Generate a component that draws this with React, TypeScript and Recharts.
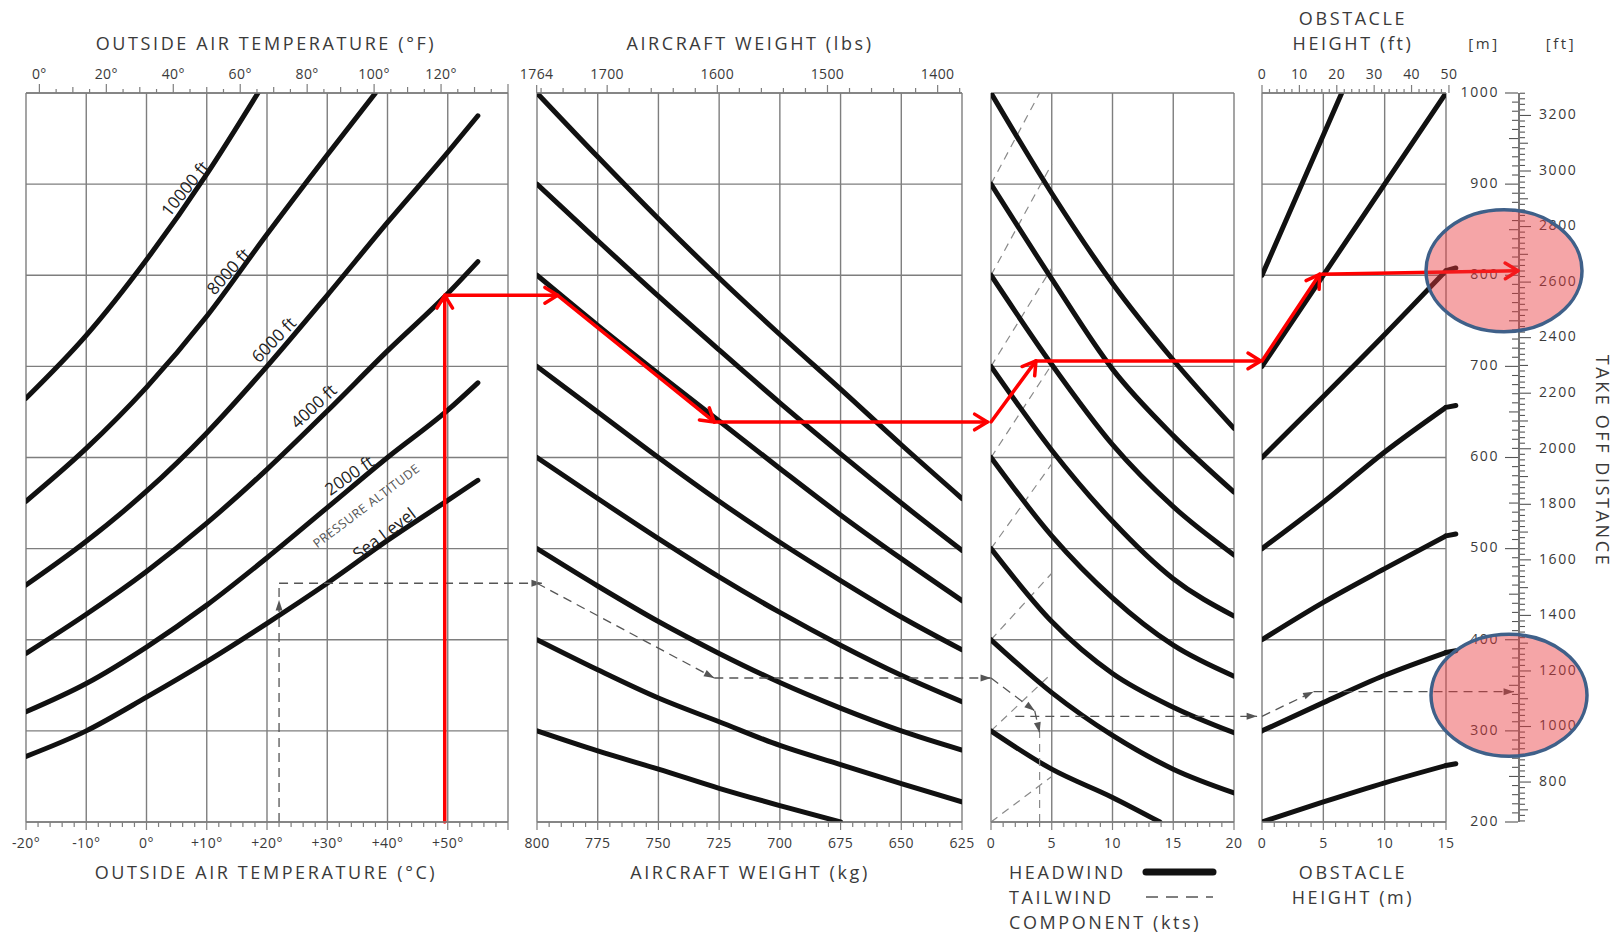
import type { ReactNode } from "react"
import { Line, LineChart, ReferenceDot, ReferenceLine, XAxis, YAxis } from "recharts"

const W = 1619
const H = 934
const PLOT_TOP = 93
const PLOT_BOTTOM = 822
const AXIS_H = 30
const SCALE_X = 1519
const FONT = "'Open Sans', 'DejaVu Sans', sans-serif"
const INK = "#3a3a3a"
const GRID = "#7e7e7e"
const CURVE = "#111"
const RED = "#ff0000"
const DASH = "#555"
const M_TO_FT = 3.28084
const KG_TO_LB = 2.20462

// take-off distance grid (m)
const distanceGrid = [200, 300, 400, 500, 600, 700, 800, 900, 1000]

// outside air temperature panel (°C -> m)
const tempStops = [-20, -10, 0, 10, 20, 30, 40, 50, 55]
const altSeaLevel = [272, 300, 337, 376, 418, 462, 509, 553, 575]
const alt2000 = [321, 352, 392, 438, 490, 545, 600, 652, 682]
const alt4000 = [385, 428, 475, 528, 587, 651, 717, 780, 815]
const alt6000 = [460, 508, 563, 627, 700, 778, 858, 935, 975]
const alt8000Stops = [-20, -10, 0, 10, 20, 30, 38]
const alt8000 = [552, 610, 677, 755, 845, 932, 1000]
const alt10000Stops = [-20, -10, 0, 10, 18.5]
const alt10000 = [665, 734, 817, 911, 1000]

// aircraft weight panel (kg -> m)
const weightStops = [800, 775, 750, 725, 700, 675, 650, 625]
const wt1000 = [1000, 930, 862, 797, 735, 675, 614, 555]
const wt900 = [900, 838, 777, 718, 660, 604, 550, 498]
const wt800 = [800, 745, 692, 640, 588, 537, 489, 443]
const wt700 = [700, 650, 600, 552, 507, 465, 425, 389]
const wt600 = [600, 555, 511, 469, 430, 394, 361, 332]
const wt500 = [500, 459, 420, 385, 353, 325, 300, 279]
const wt400 = [400, 367, 336, 310, 284, 263, 242, 222]
const wt300Stops = [800, 775, 750, 725, 700, 675]
const wt300 = [300, 278, 258, 237, 218, 200]

// wind component panel (kts -> m)
const windStops = [0, 5, 10, 15, 20]
const hw1000 = [1000, 890, 791, 707, 632]
const hw900 = [900, 796, 697, 624, 562]
const hw800 = [800, 702, 614, 546, 493]
const hw700 = [700, 608, 530, 467, 426]
const hw600 = [600, 514, 446, 394, 360]
const hw500 = [500, 420, 363, 326, 298]
const hw400 = [400, 342, 295, 258, 232]
const hw300Stops = [0, 5, 10, 13.9]
const hw300 = [300, 258, 227, 200]
const twStart = [200, 300, 400, 500, 600, 700, 800, 900]
const twEndKts = [5, 5, 5, 5, 5, 5, 5, 4]
const twEnd = [250, 363, 473, 593, 702, 808, 922, 1000]

// obstacle height panel (m -> m)
const obstStops = [0, 5, 10, 15]
const ob800Stops = [0, 6.5]
const ob800 = [800, 1000]
const ob700Stops = [0, 15]
const ob700 = [700, 1000]
const ob600 = [600, 667, 735, 805]
const ob500 = [500, 551, 606, 655]
const ob400 = [400, 441, 478, 514]
const ob300 = [300, 331, 361, 386]
const ob200 = [200, 222, 243, 262]
const hookEnd = 15.8
const hookLevels = [808, 657, 516, 388, 264]

// worked example in red
const redOat = 49.5
const redWeight = [791.5, 727]
const redWind = 3.7
const redObst = 4.7
const redDist = [778, 639, 706, 801, 805]

// printed example (dashed)
const dashOat = 22
const dashWeight = 727
const dashWind = 4
const dashObst = 4.2
const dashDist = [462, 358, 316, 343]

type Panel = { left: number; right: number; min: number; max: number; reversed?: boolean }
const P_TEMP: Panel = { left: 26, right: 508, min: -20, max: 60 }
const P_WEIGHT: Panel = { left: 537, right: 962, min: 625, max: 800, reversed: true }
const P_WIND: Panel = { left: 991, right: 1234, min: 0, max: 20 }
const P_OBST: Panel = { left: 1262, right: 1446, min: 0, max: 15 }

const range = (a: number, b: number, s: number) =>
  Array.from({ length: Math.round((b - a) / s) + 1 }, (_, i) => +(a + i * s).toFixed(4))
const mult = (v: number, m: number) => Math.abs(v / m - Math.round(v / m)) < 1e-6

// value of a panel at a given pixel column, used to carry arrows across the gaps
const pxOf = (p: Panel, v: number) => {
  const t = (v - p.min) / (p.max - p.min)
  return p.reversed ? p.right - t * (p.right - p.left) : p.left + t * (p.right - p.left)
}
const valAt = (p: Panel, px: number) => {
  let t = (px - p.left) / (p.right - p.left)
  if (p.reversed) t = 1 - t
  return p.min + t * (p.max - p.min)
}
const across = (from: Panel, v: number, to: Panel) => valAt(to, pxOf(from, v))

type AxisCfg = {
  domain: [number, number]
  ticks: number[]
  len: (v: number) => number
  label: (v: number) => string | null
}

function xTick(side: "top" | "bottom", cfg: AxisCfg) {
  return (props: any) => {
    const { x, y, payload } = props
    const v = payload.value
    const dir = side === "top" ? -1 : 1
    const text = cfg.label(v)
    return (
      <g>
        <line x1={x} x2={x} y1={y} y2={y + dir * cfg.len(v)} stroke={GRID} strokeWidth={1.2} />
        {text !== null && (
          <text x={x} y={side === "top" ? y - 14 : y + 26} textAnchor="middle" fontSize={14} fill={INK} fontFamily={FONT} letterSpacing={0.4}>
            {text}
          </text>
        )}
      </g>
    )
  }
}

function yTick(side: "left" | "right", len: (v: number) => number, label: (v: number) => string | null) {
  return (props: any) => {
    const { x, y, payload } = props
    const v = payload.value
    const dir = side === "left" ? -1 : 1
    const text = label(v)
    return (
      <g>
        <line x1={x} x2={x + dir * len(v)} y1={y} y2={y} stroke="#555" strokeWidth={1.1} />
        {text !== null && (
          <text x={x + dir * 19} y={y} textAnchor={side === "left" ? "end" : "start"} dominantBaseline="middle" fontSize={14} fill={INK} fontFamily={FONT} letterSpacing={1.6}>
            {text}
          </text>
        )}
      </g>
    )
  }
}

function arrow(color: string, width: number, opts: { dash?: string; head?: "open" | "solid"; size?: number; at?: number } = {}) {
  const { dash, head, size = 14, at = 1 } = opts
  return (p: any) => {
    const { x1, y1, x2, y2 } = p
    const a = Math.atan2(y2 - y1, x2 - x1)
    const tx = x1 + (x2 - x1) * at
    const ty = y1 + (y2 - y1) * at
    const spread = head === "open" ? 0.55 : 0.32
    const ax = tx - size * Math.cos(a - spread)
    const ay = ty - size * Math.sin(a - spread)
    const bx = tx - size * Math.cos(a + spread)
    const by = ty - size * Math.sin(a + spread)
    return (
      <g>
        <line x1={x1} y1={y1} x2={x2} y2={y2} stroke={color} strokeWidth={width} strokeDasharray={dash} strokeLinecap={dash ? "butt" : "round"} />
        {head === "open" && (
          <polyline points={`${ax},${ay} ${tx},${ty} ${bx},${by}`} fill="none" stroke={color} strokeWidth={width} strokeLinecap="round" strokeLinejoin="round" />
        )}
        {head === "solid" && <polygon points={`${ax},${ay} ${tx},${ty} ${bx},${by}`} fill={color} />}
      </g>
    )
  }
}

const redArrow = arrow(RED, 3.5, { head: "open", size: 15 })
const dashArrow = (at = 1) => arrow(DASH, 1.3, { dash: "9 6", head: "solid", size: 11, at })
const faintLine = arrow("#8a8a8a", 1.2, { dash: "8 6" })
const hookShape = arrow(CURVE, 5)

const rotText = (text: string, angle: number, size: number, color = "#222", spacing = 0) => (p: any) => (
  <text
    x={p.cx}
    y={p.cy}
    transform={`rotate(${angle} ${p.cx} ${p.cy})`}
    textAnchor="middle"
    dominantBaseline="middle"
    fontSize={size}
    fill={color}
    fontFamily={FONT}
    letterSpacing={spacing}
  >
    {text}
  </text>
)

const ellipseShape = (p: any) => (
  <ellipse cx={p.cx} cy={p.cy} rx={78} ry={61} fill="#e8383b" fillOpacity={0.45} stroke="#3f6089" strokeWidth={3.5} />
)

const curve = (key: string, xs: number[], ds: number[]) => (
  <Line
    key={key}
    data={xs.map((v, i) => ({ v, d: ds[i] }))}
    dataKey="d"
    xAxisId="b"
    yAxisId="d"
    type="monotone"
    stroke={CURVE}
    strokeWidth={5}
    strokeLinecap="round"
    dot={false}
    activeDot={false}
    isAnimationActive={false}
  />
)

const seg = (key: string, a: [number, number], b: [number, number], shape: (p: any) => ReactNode) => (
  <ReferenceLine
    key={key}
    xAxisId="b"
    yAxisId="d"
    ifOverflow="visible"
    segment={[{ x: a[0], y: a[1] }, { x: b[0], y: b[1] }]}
    shape={shape as any}
  />
)

const tag = (key: string, x: number, y: number, shape: (p: any) => ReactNode) => (
  <ReferenceDot key={key} xAxisId="b" yAxisId="d" x={x} y={y} r={1} ifOverflow="visible" shape={shape as any} />
)

const grid = (xs: number[]) => [
  ...xs.map((v) => <ReferenceLine key={`gx${v}`} x={v} xAxisId="b" yAxisId="d" stroke={GRID} strokeWidth={1.4} />),
  ...distanceGrid.map((d) => <ReferenceLine key={`gy${d}`} y={d} xAxisId="b" yAxisId="d" stroke={GRID} strokeWidth={1.4} />),
]

function PanelChart({ p, top, bottom, children }: { p: Panel; top?: AxisCfg; bottom?: AxisCfg; children: ReactNode }) {
  return (
    <div style={{ position: "absolute", left: 0, top: 0 }}>
      <LineChart
        width={W}
        height={H}
        margin={{
          top: top ? PLOT_TOP - AXIS_H : PLOT_TOP,
          bottom: bottom ? H - PLOT_BOTTOM - AXIS_H : H - PLOT_BOTTOM,
          left: p.left,
          right: W - p.right,
        }}
      >
        <XAxis
          xAxisId="b"
          dataKey="v"
          type="number"
          domain={[p.min, p.max]}
          reversed={p.reversed}
          allowDataOverflow
          hide={!bottom}
          ticks={bottom?.ticks}
          interval={0}
          tickSize={0}
          tickMargin={0}
          tickLine={false}
          axisLine={{ stroke: GRID, strokeWidth: 1.4 }}
          tick={bottom ? xTick("bottom", bottom) : false}
          height={AXIS_H}
        />
        {top && (
          <XAxis
            xAxisId="t"
            dataKey="v"
            orientation="top"
            type="number"
            domain={top.domain}
            reversed={p.reversed}
            allowDataOverflow
            ticks={top.ticks}
            interval={0}
            tickSize={0}
            tickMargin={0}
            tickLine={false}
            axisLine={{ stroke: GRID, strokeWidth: 1.4 }}
            tick={xTick("top", top)}
            height={AXIS_H}
          />
        )}
        <YAxis yAxisId="d" hide type="number" domain={[200, 1000]} allowDataOverflow />
        {top && (
          <Line
            xAxisId="t"
            yAxisId="d"
            data={[{ v: top.domain[0], d: 1000 }, { v: top.domain[1], d: 1000 }]}
            dataKey="d"
            stroke="none"
            dot={false}
            activeDot={false}
            isAnimationActive={false}
          />
        )}
        {children}
      </LineChart>
    </div>
  )
}

const fmtC = (v: number) => (v > 0 ? `+${v}°` : `${v}°`)

const tempBottom: AxisCfg = {
  domain: [-20, 60],
  ticks: range(-20, 60, 2),
  len: (v) => (mult(v, 10) ? 8 : 5),
  label: (v) => (mult(v, 10) && v < 60 ? fmtC(v) : null),
}
const tempTop: AxisCfg = {
  domain: [-4, 140],
  ticks: range(0, 140, 5),
  len: (v) => (mult(v, 20) ? 9 : mult(v, 10) ? 6 : 4),
  label: (v) => (mult(v, 20) && v <= 120 ? `${v}°` : null),
}
const weightBottom: AxisCfg = {
  domain: [625, 800],
  ticks: range(625, 800, 5),
  len: (v) => (mult(v, 25) ? 8 : 5),
  label: (v) => (mult(v, 25) ? `${v}` : null),
}
const weightTop: AxisCfg = {
  domain: [625 * KG_TO_LB, 800 * KG_TO_LB],
  ticks: [...range(1380, 1760, 20), 1764],
  len: (v) => (mult(v, 100) || v === 1764 ? 8 : 5),
  label: (v) => (v === 1764 || (mult(v, 100) && v >= 1400) ? `${v}` : null),
}
const windBottom: AxisCfg = {
  domain: [0, 20],
  ticks: range(0, 20, 1),
  len: (v) => (mult(v, 5) ? 8 : 5),
  label: (v) => (mult(v, 5) ? `${v}` : null),
}
const obstBottom: AxisCfg = {
  domain: [0, 15],
  ticks: range(0, 15, 1),
  len: (v) => (mult(v, 5) ? 8 : 5),
  label: (v) => (mult(v, 5) ? `${v}` : null),
}
const obstTop: AxisCfg = {
  domain: [0, 15 * M_TO_FT],
  ticks: range(0, 50, 2),
  len: (v) => (mult(v, 10) ? 8 : 4),
  label: (v) => (mult(v, 10) ? `${v}` : null),
}

const meterTicks = range(200, 1000, 10)
const feetTicks = range(660, 3280, 20)

function TempPanel() {
  return (
    <PanelChart p={P_TEMP} top={tempTop} bottom={tempBottom}>
      {grid(range(-20, 60, 10))}
      {curve("sl", tempStops, altSeaLevel)}
      {curve("a2", tempStops, alt2000)}
      {curve("a4", tempStops, alt4000)}
      {curve("a6", tempStops, alt6000)}
      {curve("a8", alt8000Stops, alt8000)}
      {curve("a10", alt10000Stops, alt10000)}
      {tag("l10", 6.6, 894, rotText("10000 ft", -51, 17))}
      {tag("l8", 13.8, 803, rotText("8000 ft", -48, 17))}
      {tag("l6", 21.3, 728, rotText("6000 ft", -46, 17))}
      {tag("l4", 27.9, 655, rotText("4000 ft", -43, 17))}
      {tag("l2", 33.8, 579, rotText("2000 ft", -35, 17))}
      {tag("lpa", 36.6, 546, rotText("PRESSURE ALTITUDE", -37, 12.5, "#555", 0.6))}
      {tag("lsl", 39.6, 515, rotText("Sea Level", -37, 17))}
      {seg("e1", [dashOat, 200], [dashOat, dashDist[0]], dashArrow(0.93))}
      {seg("e1b", [dashOat, dashDist[0]], [across(P_WEIGHT, 798, P_TEMP), dashDist[0]], dashArrow())}
      {seg("r1", [redOat, 200], [redOat, redDist[0]], redArrow)}
    </PanelChart>
  )
}

function WeightPanel() {
  return (
    <PanelChart p={P_WEIGHT} top={weightTop} bottom={weightBottom}>
      {grid(range(625, 800, 25))}
      {curve("w1000", weightStops, wt1000)}
      {curve("w900", weightStops, wt900)}
      {curve("w800", weightStops, wt800)}
      {curve("w700", weightStops, wt700)}
      {curve("w600", weightStops, wt600)}
      {curve("w500", weightStops, wt500)}
      {curve("w400", weightStops, wt400)}
      {curve("w300", wt300Stops, wt300)}
      {seg("e2", [800, dashDist[0]], [dashWeight, dashDist[1]], dashArrow())}
      {seg("e3", [dashWeight, dashDist[1]], [across(P_WIND, 0, P_WEIGHT), dashDist[1]], dashArrow())}
      {seg("r2", [across(P_TEMP, redOat, P_WEIGHT), redDist[0]], [redWeight[0], redDist[0]], redArrow)}
      {seg("r3", [redWeight[0], redDist[0]], [redWeight[1], redDist[1]], redArrow)}
      {seg("r4", [redWeight[1], redDist[1]], [across(P_WIND, -0.3, P_WEIGHT), redDist[1]], redArrow)}
    </PanelChart>
  )
}

function WindPanel() {
  return (
    <PanelChart p={P_WIND} bottom={windBottom}>
      {grid(range(0, 20, 5))}
      {twStart.map((d, i) => seg(`tw${i}`, [0, d], [twEndKts[i], twEnd[i]], faintLine))}
      {curve("h1000", windStops, hw1000)}
      {curve("h900", windStops, hw900)}
      {curve("h800", windStops, hw800)}
      {curve("h700", windStops, hw700)}
      {curve("h600", windStops, hw600)}
      {curve("h500", windStops, hw500)}
      {curve("h400", windStops, hw400)}
      {curve("h300", hw300Stops, hw300)}
      {seg("e4", [0, dashDist[1]], [dashWind - 0.4, dashDist[2] + 6], dashArrow())}
      {seg("e5", [dashWind - 0.4, dashDist[2] + 6], [dashWind, dashDist[2] - 18], dashArrow())}
      {seg("e5b", [dashWind, 200], [dashWind, dashDist[2] - 18], faintLine)}
      {seg("e6", [dashWind - 2, dashDist[2]], [across(P_OBST, -0.4, P_WIND), dashDist[2]], dashArrow())}
      {seg("r5", [0, redDist[1]], [redWind, redDist[2]], redArrow)}
      {seg("r6", [redWind, redDist[2]], [across(P_OBST, -0.1, P_WIND), redDist[2]], redArrow)}
    </PanelChart>
  )
}

function ObstaclePanel() {
  const tails = [ob600, ob500, ob400, ob300, ob200]
  return (
    <PanelChart p={P_OBST} top={obstTop} bottom={obstBottom}>
      {grid(range(0, 15, 5))}
      {curve("o800", ob800Stops, ob800)}
      {curve("o700", ob700Stops, ob700)}
      {curve("o600", obstStops, ob600)}
      {curve("o500", obstStops, ob500)}
      {curve("o400", obstStops, ob400)}
      {curve("o300", obstStops, ob300)}
      {curve("o200", obstStops, ob200)}
      {tails.map((t, i) => seg(`hk${i}`, [15, t[3]], [hookEnd, hookLevels[i]], hookShape))}
      {seg("e7", [0, dashDist[2]], [dashObst, dashDist[3]], dashArrow())}
      {seg("e8", [dashObst, dashDist[3]], [valAt(P_OBST, SCALE_X - 5), dashDist[3]], dashArrow())}
      {seg("r7", [0, redDist[2]], [redObst, redDist[3]], redArrow)}
    </PanelChart>
  )
}

function HighlightLayer() {
  return (
    <PanelChart p={P_OBST}>
      {tag("ellA", valAt(P_OBST, 1504), 805, ellipseShape)}
      {tag("ellB", valAt(P_OBST, 1509), 339, ellipseShape)}
      {seg("r8", [redObst, redDist[3]], [valAt(P_OBST, SCALE_X - 1), redDist[4]], redArrow)}
    </PanelChart>
  )
}

function DistanceScale() {
  return (
    <div style={{ position: "absolute", left: 0, top: 0 }}>
      <LineChart
        width={W}
        height={H}
        margin={{ top: PLOT_TOP, bottom: H - PLOT_BOTTOM, left: SCALE_X - 1 - 70, right: W - SCALE_X - 1 - 70 }}
      >
        <XAxis xAxisId="s" dataKey="v" type="number" domain={[-1, 1]} hide allowDataOverflow />
        <YAxis
          yAxisId="m"
          orientation="left"
          width={70}
          type="number"
          domain={[200, 1000]}
          allowDataOverflow
          ticks={meterTicks}
          interval={0}
          tickSize={0}
          tickMargin={0}
          tickLine={false}
          axisLine={false}
          tick={yTick("left", (v) => (mult(v, 100) ? 13 : mult(v, 50) ? 9 : 6), (v) => (mult(v, 100) ? `${v}` : null))}
        />
        <YAxis
          yAxisId="ft"
          orientation="right"
          width={70}
          type="number"
          domain={[200 * M_TO_FT, 1000 * M_TO_FT]}
          allowDataOverflow
          ticks={feetTicks}
          interval={0}
          tickSize={0}
          tickMargin={0}
          tickLine={false}
          axisLine={false}
          tick={yTick("right", (v) => (mult(v, 200) ? 11 : mult(v, 100) ? 8 : 5), (v) => (mult(v, 200) && v >= 800 ? `${v}` : null))}
        />
        <Line
          xAxisId="s"
          yAxisId="m"
          data={[{ v: 0, d: 200 }, { v: 0, d: 1000 }]}
          dataKey="d"
          stroke="#555"
          strokeWidth={1.6}
          dot={false}
          activeDot={false}
          isAnimationActive={false}
        />
        <Line
          xAxisId="s"
          yAxisId="ft"
          data={[{ v: 0, d: 200 * M_TO_FT }, { v: 0, d: 1000 * M_TO_FT }]}
          dataKey="d"
          stroke="none"
          dot={false}
          activeDot={false}
          isAnimationActive={false}
        />
      </LineChart>
    </div>
  )
}

function Txt({ x, y, children, align = "center", size = 18, rotate = 0 }: { x: number; y: number; children: ReactNode; align?: "center" | "left"; size?: number; rotate?: number }) {
  return (
    <div
      style={{
        position: "absolute",
        left: x,
        top: y,
        transform: `translate(${align === "center" ? "-50%" : "0"}, -50%) rotate(${rotate}deg)`,
        fontFamily: FONT,
        fontSize: size,
        letterSpacing: 2.6,
        color: INK,
        whiteSpace: "nowrap",
        lineHeight: 1,
      }}
    >
      {children}
    </div>
  )
}

export default function App() {
  return (
    <div style={{ position: "absolute", left: 0, top: 0, width: W, height: H, background: "#fff", overflow: "hidden" }}>
      <TempPanel />
      <WeightPanel />
      <WindPanel />
      <DistanceScale />
      <ObstaclePanel />
      <HighlightLayer />

      <Txt x={266} y={43}>OUTSIDE AIR TEMPERATURE (°F)</Txt>
      <Txt x={750} y={43}>AIRCRAFT WEIGHT (lbs)</Txt>
      <Txt x={1353} y={18}>OBSTACLE</Txt>
      <Txt x={1353} y={43}>HEIGHT (ft)</Txt>
      <Txt x={1484} y={43} size={15}>[m]</Txt>
      <Txt x={1561} y={43} size={15}>[ft]</Txt>

      <Txt x={266} y={872}>OUTSIDE AIR TEMPERATURE (°C)</Txt>
      <Txt x={750} y={872}>AIRCRAFT WEIGHT (kg)</Txt>
      <Txt x={1009} y={872} align="left">HEADWIND</Txt>
      <Txt x={1009} y={897} align="left">TAILWIND</Txt>
      <Txt x={1009} y={922} align="left">COMPONENT (kts)</Txt>
      <Txt x={1353} y={872}>OBSTACLE</Txt>
      <Txt x={1353} y={897}>HEIGHT (m)</Txt>
      <Txt x={1603} y={461} rotate={90}>TAKE OFF DISTANCE</Txt>

      <svg width={80} height={40} style={{ position: "absolute", left: 1140, top: 862 }}>
        <line x1={6} y1={10} x2={73} y2={10} stroke={CURVE} strokeWidth={7} strokeLinecap="round" />
        <line x1={6} y1={35} x2={73} y2={35} stroke={DASH} strokeWidth={1.5} strokeDasharray="12 8" />
      </svg>
    </div>
  )
}
